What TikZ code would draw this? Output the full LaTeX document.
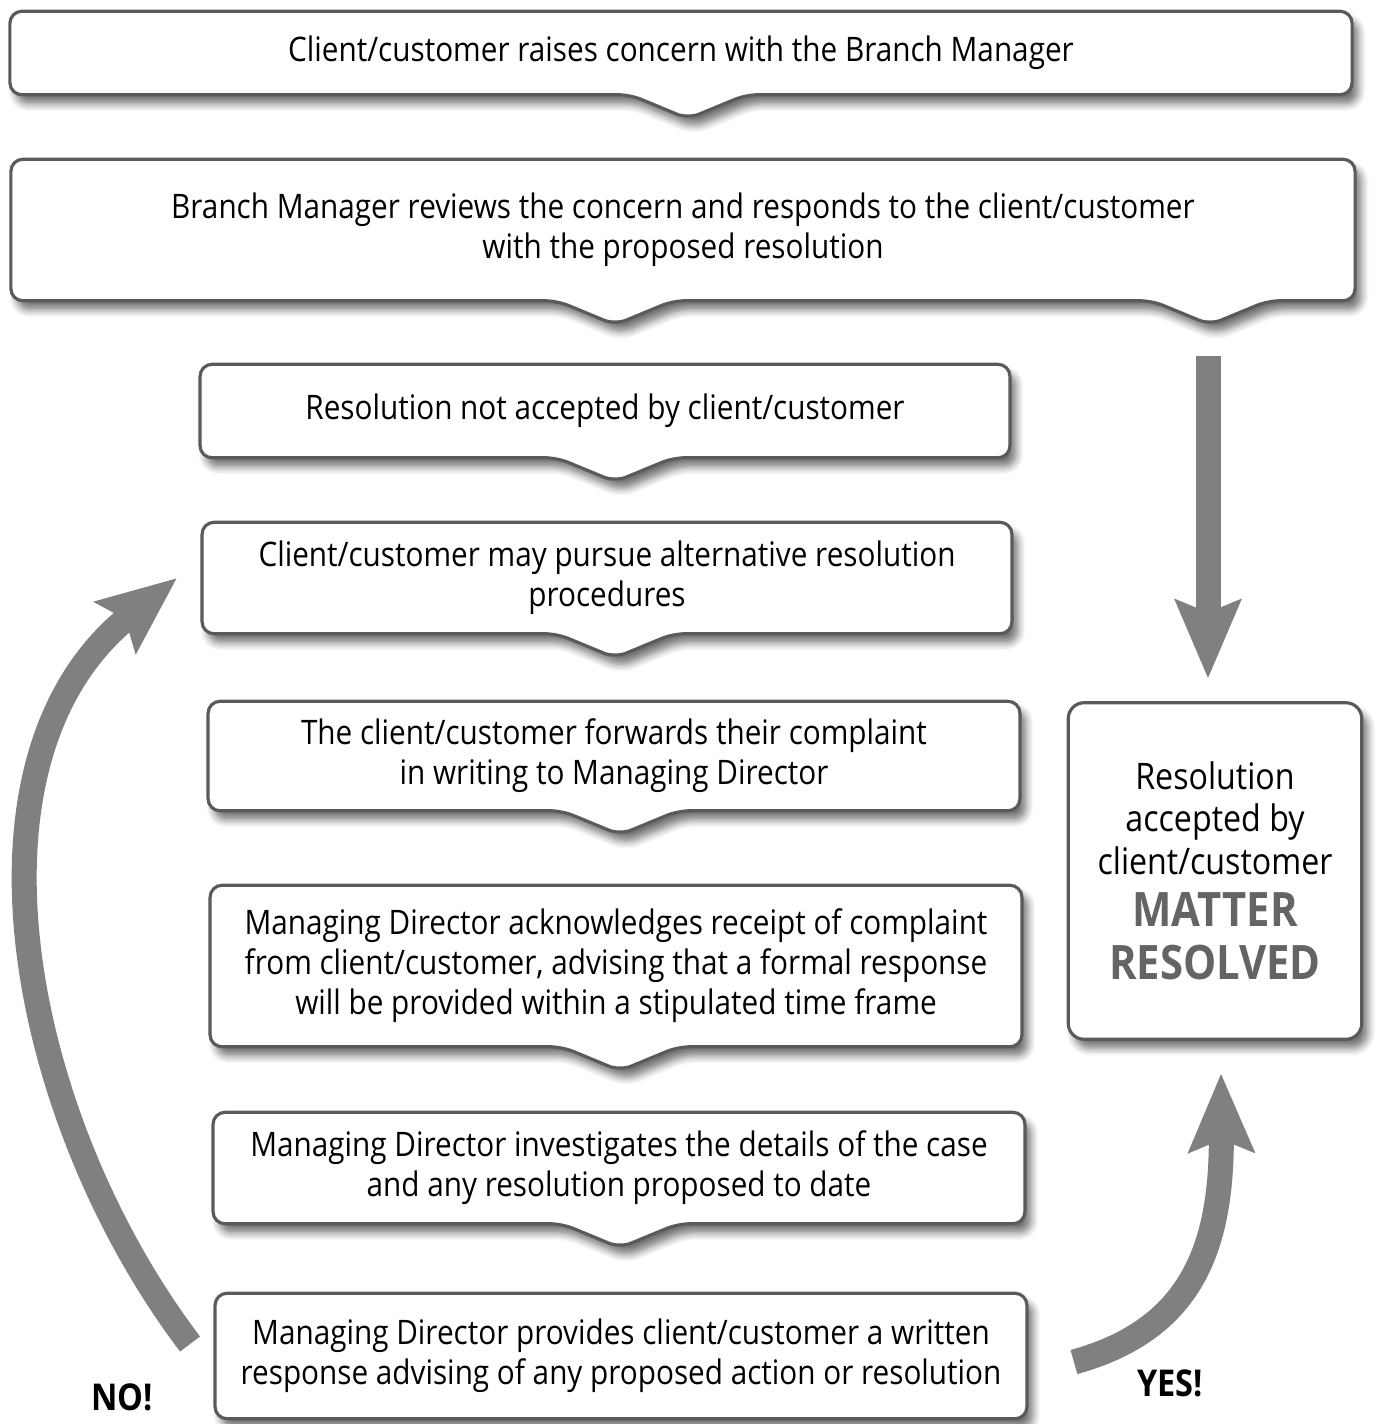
\documentclass[tikz,border=0pt]{standalone}
\usepackage{fontspec}
\setmainfont{Open Sans}[FakeStretch=0.88]
\usetikzlibrary{calc,arrows.meta,shadows.blur}
\pgfdeclarelayer{background}
\pgfsetlayers{background,main}

\definecolor{boxgray}{RGB}{90,90,90}
\definecolor{arrowgray}{RGB}{128,128,128}
\definecolor{stampgray}{RGB}{100,100,100}

\tikzset{
  stepnode/.style={inner sep=0pt, align=center, font=\fontsize{9.6}{11.4}\selectfont},
  boxline/.style={draw=boxgray, line width=0.9pt, fill=white, rounded corners=0.12cm,
    blur shadow={shadow xshift=0.06cm, shadow yshift=-0.09cm, shadow blur steps=6, shadow opacity=55}},
  bigarrow/.style={draw=arrowgray, line width=0.25cm, -{Stealth[length=0.78cm,width=0.64cm,inset=0.12cm]}},
}

% box with one or more notches under it
\newcommand{\stepbox}[2]{%
  \begin{pgfonlayer}{background}
  \draw[boxline] (#1.west) -- (#1.north west) -- (#1.north east) -- (#1.south east)
    foreach \o in {#2} {-- ($(#1.south)+(\o+58,0)$) -- ($(#1.south)+(\o,24)$) -- ($(#1.south)+(\o-58,0)$)}
    -- (#1.south west) -- cycle;
  \end{pgfonlayer}}

\begin{document}
\begin{tikzpicture}[x=0.01cm,y=-0.01cm]
\useasboundingbox (0,0) rectangle (1379,1424);

\node[stepnode, minimum width=13.40cm, minimum height=0.82cm] (b1) at (681,53) {Client/customer raises concern with the Branch Manager};
\node[stepnode, minimum width=13.42cm, minimum height=1.40cm] (b2) at (683,230) {Branch Manager reviews the concern and responds to the client/customer\\with the proposed resolution};
\node[stepnode, minimum width=8.08cm, minimum height=0.92cm] (b3) at (605,411) {Resolution not accepted by client/customer};
\node[stepnode, minimum width=8.08cm, minimum height=1.10cm] (b4) at (607,578) {Client/customer may pursue alternative resolution\\procedures};
\node[stepnode, minimum width=8.10cm, minimum height=1.08cm] (b5) at (614,756) {The client/customer forwards their complaint\\in writing to Managing Director};
\node[stepnode, minimum width=8.10cm, minimum height=1.60cm] (b6) at (616,966) {Managing Director acknowledges receipt of complaint\\from client/customer, advising that a formal response\\will be provided within a stipulated time frame};
\node[stepnode, minimum width=8.10cm, minimum height=1.10cm] (b7) at (619,1168) {Managing Director investigates the details of the case\\and any resolution proposed to date};
\node[stepnode, minimum width=8.10cm, minimum height=1.24cm] (b8) at (621,1356) {Managing Director provides client/customer a written\\response advising of any proposed action or resolution};
\node[stepnode, font=\fontsize{10.4}{12}\selectfont, minimum width=2.92cm, minimum height=3.35cm] (res) at (1215,871) {Resolution\\accepted by\\client/customer\\[3pt]{\fontsize{13.5}{16}\selectfont\bfseries\color{stampgray}MATTER}\\[3pt]{\fontsize{13.5}{16}\selectfont\bfseries\color{stampgray}RESOLVED}};

\stepbox{b1}{7}
\stepbox{b2}{527,-68}
\stepbox{b3}{10}
\stepbox{b4}{8}
\stepbox{b5}{6}
\stepbox{b6}{4}
\stepbox{b7}{1}
\begin{pgfonlayer}{background}
\draw[boxline] (b8.north west) rectangle (b8.south east);
\draw[boxline, rounded corners=0.16cm] (res.north west) rectangle (res.south east);
\end{pgfonlayer}

\node[font=\fontsize{10.5}{12}\selectfont\bfseries] (no) at (122,1397) {NO!};
\node[font=\fontsize{10.5}{12}\selectfont\bfseries] (yes) at (1170,1383) {YES!};

\coordinate (down) at ($(b2.south)+(525,55)$);
\draw[bigarrow] (down) -- ($(res.north)+(-7,-24)$);
\draw[bigarrow] ($(b8.west)+(-25,-12)$) .. controls (20,1120) and (-50,760) .. ($(b4.west)+(-25,0)$);
\draw[bigarrow] ($(b8.east)+(47,6)$) .. controls (1190,1330) and (1222,1250) .. ($(res.south)+(6,34)$);
\end{tikzpicture}
\end{document}
